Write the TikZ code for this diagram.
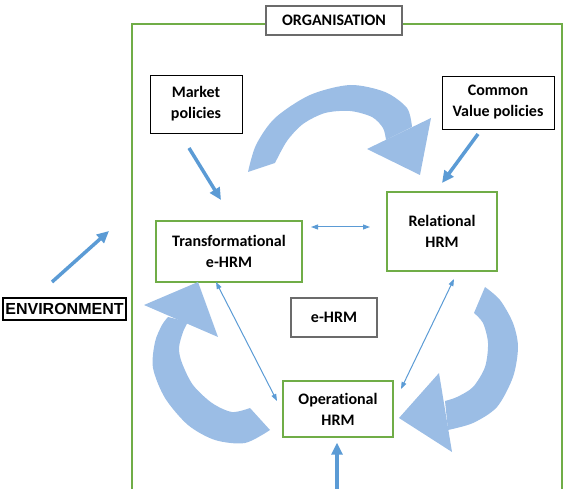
\documentclass[tikz,border=0pt]{standalone}
\usepackage{fontspec}
\setmainfont{Carlito}[Ligatures=NoCommon]
\newfontfamily\arialfont{Liberation Sans}
\usetikzlibrary{arrows.meta, calc}
\definecolor{cgreen}{HTML}{70AD47}
\definecolor{cblue}{HTML}{5B9BD5}
\definecolor{carc}{HTML}{9BBDE5}
\definecolor{cgrey}{HTML}{6B6B6B}
\tikzset{
  every picture/.style={font=\bfseries\fontsize{16}{21}\selectfont},
  box/.style={draw=#1, fill=white, align=center, inner sep=0pt, line width=1.1pt},
  box/.default=black,
  bigarrow/.style={-{Triangle[length=12pt,width=11pt]}, draw=cblue, line width=3.5pt},
  link/.style={{Triangle[length=7pt,width=5pt]}-{Triangle[length=7pt,width=5pt]}, draw=cblue, line width=1pt},
  turn/.style={fill=carc},
}

\begin{document}
\begin{tikzpicture}[x=1pt, y=-1pt,
  hrm/.style={box=cgreen, line width=1.4pt},
  pol/.style={box=black, line width=0.8pt}]
  \useasboundingbox (0,0) rectangle (563,489);
  % organisation frame
  \draw[cgreen, line width=2pt] (132,500) -- (132,24) -- (562,24) -- (562,500);
  \node[box=cgrey, minimum width=136, minimum height=29] (org) at (334,20.5) {ORGANISATION};
  % policies
  \node[pol, minimum width=92, minimum height=58] (market) at (196,104) {Market\\policies};
  \node[pol, minimum width=112, minimum height=53] (common) at (498,102.5) {Common\\Value policies};
  % HRM boxes
  \node[hrm, minimum width=146, minimum height=61] (trans) at (229,251.5) {Transformational\\e-HRM};
  \node[hrm, minimum width=110, minimum height=79] (rel) at (442,231.5) {Relational\\HRM};
  \node[hrm, minimum width=110, minimum height=56] (oper) at (338,409) {Operational\\HRM};
  \node[box=cgrey, minimum width=86, minimum height=39] (ehrm) at (334,317.5) {e-HRM};
  \node[box=black, line width=1.3pt, minimum width=123, minimum height=22, font=\arialfont\bfseries\fontsize{16}{18}\selectfont] (env) at (64.5,309) {ENVIRONMENT};
  % turning arrows
  \fill[turn] plot[smooth] coordinates {(248,172) (256,145) (275,118) (310,95) (350,85) (385,92) (407,108) (412,127)}
    -- plot[smooth] coordinates {(386,140) (383,128) (372,117) (350,111) (325,113) (303,124) (287,141) (275,163)} -- cycle;
  \fill[turn] (367,149) -- (431,118) -- (420,175) -- cycle;
  \fill[turn] plot[smooth] coordinates {(485,287) (500,300) (513,323) (518,347) (513,377) (497,407) (473,423) (448,430)}
    -- plot[smooth] coordinates {(445,401) (457,397) (473,387) (485,367) (488,343) (483,323) (474,313)} -- cycle;
  \fill[turn] (439,373) -- (452,452) -- (399,418) -- cycle;
  \fill[turn] plot[smooth] coordinates {(270,430) (245,443) (215,440) (188,425) (165,398) (153,368) (155,342) (162,325) (168,317)}
    -- plot[smooth] coordinates {(188,322) (183,332) (179,348) (182,363) (193,385) (212,403) (232,412) (250,408)} -- cycle;
  \fill[turn] (144,305) -- (198,282) -- (218,337) -- cycle;
  % straight arrows
  \coordinate (mk) at (189,148); \coordinate (mkt) at (221,200);
  \coordinate (cv) at (478,134); \coordinate (cvt) at (442,183);
  \coordinate (en) at (52,282);  \coordinate (ent) at (109,231);
  \coordinate (bt) at (337,489);
  \draw[bigarrow] (mk) -- (mkt);
  \draw[bigarrow] (cv) -- (cvt);
  \draw[bigarrow] (en) -- (ent);
  \draw[bigarrow, shorten >=5pt] (bt) -- (oper.south -| bt);
  % links
  \coordinate (tr) at (311,227); \coordinate (rl) at (370,227);
  \coordinate (tb) at (216,282); \coordinate (ol) at (277,401);
  \coordinate (rb) at (454,279); \coordinate (or) at (401,389);
  \draw[link] (tr) -- (rl);
  \draw[link] (tb) -- (ol);
  \draw[link] (rb) -- (or);
\end{tikzpicture}
\end{document}
